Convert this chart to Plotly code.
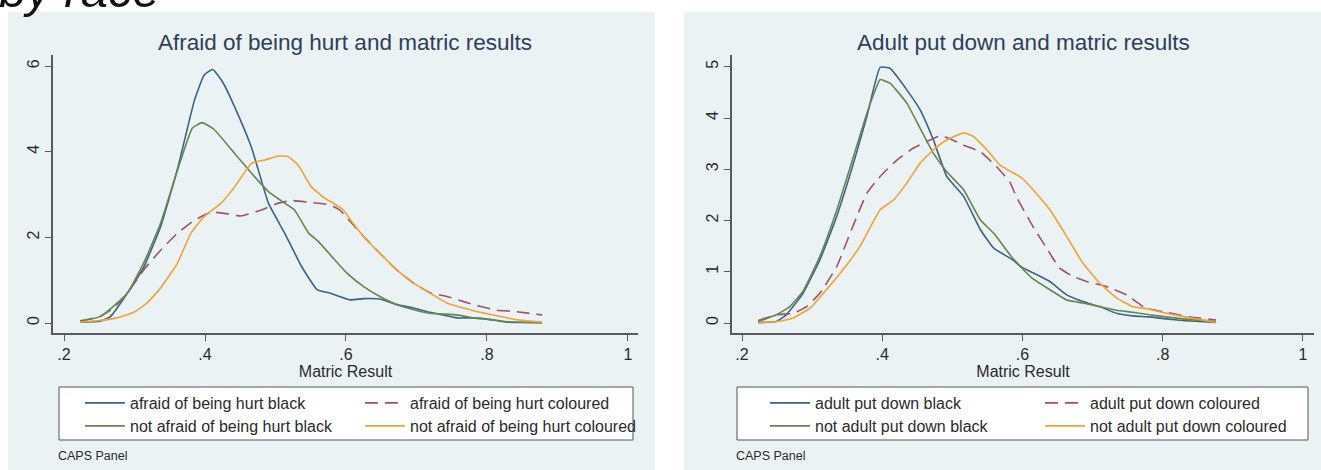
import plotly.graph_objects as go

# Kernel density estimates of matric results, CAPS Panel
# ---- Panel 1: afraid of being hurt ----
afraid_black_x = [0.223, 0.251, 0.266, 0.29, 0.313, 0.337, 0.361, 0.385, 0.399, 0.411, 0.425, 0.442,
                  0.466, 0.49, 0.513, 0.537, 0.559, 0.577, 0.606, 0.625, 0.648, 0.672, 0.696, 0.719,
                  0.743, 0.757, 0.781, 0.805, 0.828, 0.878]
afraid_black_y = [0.02, 0.04, 0.15, 0.7, 1.3, 2.25, 3.6, 5.2, 5.8, 5.92, 5.63, 5.05,
                  4.1, 2.8, 2.1, 1.32, 0.78, 0.7, 0.54, 0.57, 0.56, 0.43, 0.35, 0.25,
                  0.17, 0.12, 0.12, 0.08, 0.02, 0.01]

afraid_col_x = [0.223, 0.251, 0.27, 0.29, 0.313, 0.337, 0.361, 0.385, 0.409, 0.432, 0.451, 0.48,
                0.504, 0.523, 0.547, 0.577, 0.591, 0.606, 0.625, 0.648, 0.672, 0.696, 0.719, 0.743,
                0.767, 0.79, 0.814, 0.838, 0.878]
afraid_col_y = [0.05, 0.15, 0.35, 0.7, 1.24, 1.7, 2.1, 2.4, 2.59, 2.55, 2.5, 2.64,
                2.8, 2.86, 2.82, 2.76, 2.64, 2.37, 2.02, 1.63, 1.24, 0.93, 0.71, 0.62,
                0.5, 0.39, 0.3, 0.27, 0.19]

not_afraid_black_x = [0.223, 0.251, 0.27, 0.29, 0.313, 0.337, 0.361, 0.382, 0.396, 0.413, 0.442, 0.466,
                      0.49, 0.513, 0.527, 0.547, 0.561, 0.58, 0.601, 0.625, 0.648, 0.672, 0.696, 0.719,
                      0.757, 0.781, 0.805, 0.828, 0.878]
not_afraid_black_y = [0.04, 0.15, 0.39, 0.7, 1.4, 2.33, 3.57, 4.55, 4.68, 4.52, 3.96, 3.5,
                      3.07, 2.8, 2.64, 2.1, 1.9, 1.55, 1.17, 0.85, 0.62, 0.43, 0.31, 0.23,
                      0.19, 0.12, 0.08, 0.03, 0.01]

not_afraid_col_x = [0.223, 0.251, 0.275, 0.299, 0.318, 0.337, 0.361, 0.38, 0.399, 0.423, 0.442, 0.466,
                    0.485, 0.504, 0.518, 0.532, 0.551, 0.57, 0.58, 0.596, 0.61, 0.625, 0.648, 0.672,
                    0.696, 0.719, 0.743, 0.767, 0.79, 0.814, 0.838, 0.878]
not_afraid_col_y = [0.02, 0.06, 0.12, 0.25, 0.47, 0.82, 1.4, 2.1, 2.49, 2.8, 3.18, 3.73,
                    3.81, 3.9, 3.89, 3.69, 3.18, 2.91, 2.82, 2.64, 2.33, 2.02, 1.63, 1.24,
                    0.93, 0.7, 0.47, 0.35, 0.25, 0.17, 0.09, 0.02]

# ---- Panel 2: adult put down ----
putdown_black_x = [0.223, 0.249, 0.263, 0.287, 0.311, 0.335, 0.359, 0.378, 0.397, 0.411, 0.435, 0.454,
                   0.473, 0.492, 0.516, 0.54, 0.559, 0.584, 0.6, 0.615, 0.639, 0.663, 0.686, 0.71,
                   0.734, 0.757, 0.781, 0.805, 0.828, 0.876]
putdown_black_y = [0.01, 0.03, 0.16, 0.58, 1.23, 2.08, 3.12, 4.03, 4.99, 4.97, 4.55, 4.16,
                   3.57, 2.86, 2.47, 1.82, 1.46, 1.25, 1.08, 0.98, 0.81, 0.55, 0.42, 0.32,
                   0.19, 0.14, 0.12, 0.08, 0.05, 0.01]

putdown_col_x = [0.223, 0.249, 0.273, 0.292, 0.311, 0.335, 0.359, 0.378, 0.397, 0.421, 0.444, 0.468,
                 0.48, 0.492, 0.516, 0.54, 0.563, 0.582, 0.591, 0.615, 0.639, 0.653, 0.672, 0.691,
                 0.72, 0.748, 0.776, 0.805, 0.833, 0.876]
putdown_col_y = [0.05, 0.16, 0.19, 0.32, 0.58, 1.1, 1.92, 2.53, 2.86, 3.18, 3.41, 3.57,
                 3.64, 3.62, 3.47, 3.34, 3.05, 2.75, 2.47, 1.88, 1.36, 1.07, 0.91, 0.81,
                 0.71, 0.55, 0.29, 0.21, 0.13, 0.06]

not_putdown_black_x = [0.223, 0.249, 0.268, 0.287, 0.311, 0.335, 0.359, 0.378, 0.392, 0.397, 0.411, 0.435,
                       0.454, 0.473, 0.492, 0.516, 0.54, 0.559, 0.584, 0.6, 0.615, 0.639, 0.663, 0.686,
                       0.71, 0.734, 0.757, 0.781, 0.805, 0.828, 0.876]
not_putdown_black_y = [0.03, 0.16, 0.32, 0.62, 1.3, 2.2, 3.25, 4.09, 4.61, 4.75, 4.68, 4.29,
                       3.8, 3.31, 2.95, 2.6, 2.01, 1.75, 1.3, 1.06, 0.86, 0.65, 0.45, 0.39,
                       0.32, 0.25, 0.21, 0.16, 0.12, 0.08, 0.03]

not_putdown_col_x = [0.223, 0.249, 0.273, 0.297, 0.316, 0.34, 0.368, 0.397, 0.416, 0.435, 0.454, 0.473,
                     0.492, 0.516, 0.53, 0.549, 0.568, 0.584, 0.6, 0.615, 0.639, 0.663, 0.686, 0.71,
                     0.734, 0.757, 0.781, 0.805, 0.828, 0.876]
not_putdown_col_y = [0.0, 0.03, 0.1, 0.29, 0.58, 0.97, 1.49, 2.21, 2.4, 2.73, 3.12, 3.38,
                     3.57, 3.71, 3.64, 3.38, 3.08, 2.95, 2.82, 2.6, 2.21, 1.69, 1.17, 0.78,
                     0.49, 0.32, 0.27, 0.19, 0.13, 0.01]

x_tickvals = [0.2, 0.4, 0.6, 0.8, 1.0]
x_ticktext = [".2", ".4", ".6", ".8", "1"]
y1_tickvals = [0, 2, 4, 6]
y2_tickvals = [0, 1, 2, 3, 4, 5]

# Styling
W, H = 1321, 470
BLUE, MAROON, GREEN, ORANGE = "#3a6485", "#a05368", "#66854f", "#efa236"
PANEL_BG = "#eaf2f3"
AXIS_COL = "#5a5a5a"
TEXT_COL = "#2b2b2b"
TITLE_COL = "#2e4058"
FONT = "Liberation Sans, Arial, sans-serif"
DASH = "13px,7px"


def px(v):
    return v / W


def py(v):
    return 1 - v / H


fig = go.Figure()

# each legend row is its own horizontal legend so the 2x2 key layout is fixed
panels = [
    ("x", "y", [
        ("afraid of being hurt black", afraid_black_x, afraid_black_y, BLUE, "solid", "legend"),
        ("afraid of being hurt coloured", afraid_col_x, afraid_col_y, MAROON, DASH, "legend"),
        ("not afraid of being hurt black", not_afraid_black_x, not_afraid_black_y, GREEN, "solid", "legend2"),
        ("not afraid of being hurt coloured", not_afraid_col_x, not_afraid_col_y, ORANGE, "solid", "legend2"),
    ]),
    ("x2", "y2", [
        ("adult put down black", putdown_black_x, putdown_black_y, BLUE, "solid", "legend3"),
        ("adult put down coloured", putdown_col_x, putdown_col_y, MAROON, DASH, "legend3"),
        ("not adult put down black", not_putdown_black_x, not_putdown_black_y, GREEN, "solid", "legend4"),
        ("not adult put down coloured", not_putdown_col_x, not_putdown_col_y, ORANGE, "solid", "legend4"),
    ]),
]

for xa, ya, series in panels:
    for name, xs, ys, col, dash, leg in series:
        fig.add_trace(go.Scatter(
            x=xs, y=ys, mode="lines", name=name, xaxis=xa, yaxis=ya, legend=leg,
            line=dict(color=col, width=1.6, dash=dash, shape="spline", smoothing=0.4),
            hoverinfo="skip",
        ))

axis_common = dict(
    showline=True, linecolor=AXIS_COL, linewidth=1.5, mirror=False,
    ticks="outside", ticklen=6, tickwidth=1.2, tickcolor=AXIS_COL,
    tickfont=dict(size=16, color=TEXT_COL, family=FONT), zeroline=False,
)

xdom1 = [px(53), px(638)]
xdom2 = [px(732), px(1314)]
ydom = [py(333), py(55)]


def row_legend(left, center_y, entry_w):
    return dict(orientation="h", xref="paper", yref="paper",
                x=px(left), y=py(center_y), xanchor="left", yanchor="middle",
                bgcolor="rgba(0,0,0,0)", borderwidth=0,
                font=dict(size=16, color=TEXT_COL, family=FONT),
                entrywidth=entry_w, itemwidth=40, tracegroupgap=0)


fig.update_layout(
    width=W, height=H,
    margin=dict(l=0, r=0, t=0, b=0),
    paper_bgcolor="white", plot_bgcolor="white",
    font=dict(family=FONT, color=TEXT_COL),
    xaxis=dict(domain=xdom1, range=[0.1844, 1.0142], anchor="y",
               tickvals=x_tickvals, ticktext=x_ticktext, showgrid=False,
               title=dict(text="Matric Result", font=dict(size=16, color=TEXT_COL), standoff=1),
               **axis_common),
    yaxis=dict(domain=ydom, range=[-0.233, 6.26], anchor="x",
               tickvals=y1_tickvals, tickangle=-90, showgrid=True, gridcolor="#edf2f3", gridwidth=1,
               **axis_common),
    xaxis2=dict(domain=xdom2, range=[0.1857, 1.0157], anchor="y2",
                tickvals=x_tickvals, ticktext=x_ticktext, showgrid=False,
                title=dict(text="Matric Result", font=dict(size=16, color=TEXT_COL), standoff=1),
                **axis_common),
    yaxis2=dict(domain=ydom, range=[-0.195, 5.23], anchor="x2",
                tickvals=y2_tickvals, tickangle=-90, showgrid=True, gridcolor="#edf2f3", gridwidth=1,
                **axis_common),
    legend=row_legend(80, 403, 225),
    legend2=row_legend(80, 426, 225),
    legend3=row_legend(765, 403, 220),
    legend4=row_legend(765, 426, 220),
    shapes=[
        dict(type="rect", xref="paper", yref="paper", x0=px(8), x1=px(655), y0=0, y1=py(12),
             fillcolor=PANEL_BG, line=dict(width=0), layer="below"),
        dict(type="rect", xref="paper", yref="paper", x0=px(684), x1=1, y0=0, y1=py(12),
             fillcolor=PANEL_BG, line=dict(width=0), layer="below"),
        # key boxes
        dict(type="rect", xref="paper", yref="paper", x0=px(59), x1=px(633), y0=py(440), y1=py(387),
             fillcolor="white", line=dict(width=1, color="#555555"), layer="below"),
        dict(type="rect", xref="paper", yref="paper", x0=px(737), x1=px(1308), y0=py(440), y1=py(387),
             fillcolor="white", line=dict(width=1, color="#555555"), layer="below"),
    ],
    annotations=[
        dict(text="Afraid of being hurt and matric results", x=px(345), y=py(42),
             xref="paper", yref="paper", xanchor="center", yanchor="middle", showarrow=False,
             font=dict(size=22.5, color=TITLE_COL, family=FONT)),
        dict(text="Adult put down and matric results", x=px(1023), y=py(42),
             xref="paper", yref="paper", xanchor="center", yanchor="middle", showarrow=False,
             font=dict(size=22.5, color=TITLE_COL, family=FONT)),
        dict(text="CAPS Panel", x=px(56), y=py(456), xref="paper", yref="paper",
             xanchor="left", yanchor="middle", showarrow=False,
             font=dict(size=12.5, color=TEXT_COL, family=FONT)),
        dict(text="CAPS Panel", x=px(734), y=py(456), xref="paper", yref="paper",
             xanchor="left", yanchor="middle", showarrow=False,
             font=dict(size=12.5, color=TEXT_COL, family=FONT)),
        dict(text="<i>by race</i>", x=px(-3), y=py(19), xref="paper", yref="paper",
             xanchor="left", yanchor="bottom", showarrow=False,
             font=dict(size=49, color="#111111", family=FONT)),
    ],
)

fig.write_html("out.html")
